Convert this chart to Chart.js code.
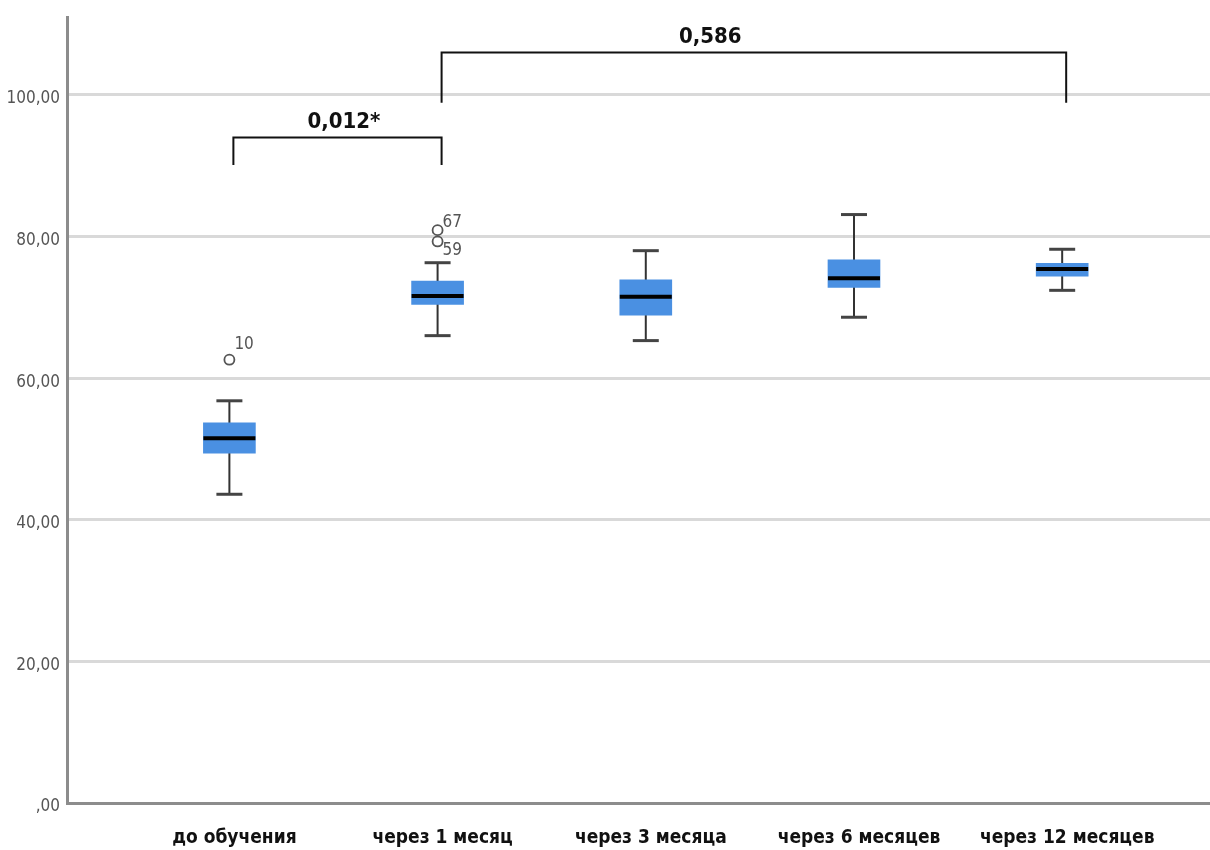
<!DOCTYPE html>
<html>
<head>
<meta charset="utf-8">
<script src="https://cdn.jsdelivr.net/npm/chart.js@4.4.0/dist/chart.umd.min.js"></script>
<style>
  html, body { margin: 0; padding: 0; background: #fff; overflow: hidden; }
  #wrap { width: 1210px; height: 850px; position: relative; }
  #wrap canvas { display: block; }
</style>
</head>
<body>
<div id="wrap"><canvas id="boxChart"></canvas></div>
<script>
// groups and box statistics
const categories = ["до обучения", "через 1 месяц", "через 3 месяца", "через 6 месяцев", "через 12 месяцев"];
const whiskerLow = [43.6, 66.0, 65.3, 68.6, 72.4];
const q1 = [49.4, 70.4, 68.9, 72.8, 74.4];
const medians = [51.5, 71.6, 71.5, 74.1, 75.4];
const q3 = [53.7, 73.7, 73.9, 76.7, 76.2];
const whiskerHigh = [56.8, 76.3, 78.0, 83.1, 78.2];

// outliers
const outlierGroup = [0, 1, 1];
const outlierValues = [62.6, 80.9, 79.3];
const outlierIds = ["10", "67", "59"];

// y axis ticks
const yTicks = [0, 20, 40, 60, 80, 100];
const yTickLabels = [",00", "20,00", "40,00", "60,00", "80,00", "100,00"];

// significance brackets
const bracketFrom = [0, 1];
const bracketTo = [1, 4];
const bracketTop = [94.0, 106.0];
const bracketBottom = [90.1, 98.9];
const bracketLabels = ["0,012*", "0,586"];
const bracketLabelAt = [0.55, 2.31];

const narrow = "'Liberation Sans Narrow', 'DejaVu Sans Condensed', 'Liberation Sans', sans-serif";

// whiskers, caps, medians, outlier ids and brackets
const boxExtras = {
  id: "boxExtras",
  beforeDatasetsDraw(chart) {
    const { ctx, scales: { x, y } } = chart;
    ctx.save();
    ctx.strokeStyle = "#333";
    ctx.lineWidth = 2;
    categories.forEach((c, i) => {
      const px = x.getPixelForValue(i);
      ctx.beginPath();
      ctx.moveTo(px, y.getPixelForValue(whiskerLow[i]));
      ctx.lineTo(px, y.getPixelForValue(whiskerHigh[i]));
      ctx.stroke();
    });
    ctx.restore();
  },
  afterDatasetsDraw(chart) {
    const { ctx, scales: { x, y } } = chart;
    const bars = chart.getDatasetMeta(0).data;
    ctx.save();

    // caps
    ctx.strokeStyle = "#444";
    ctx.lineWidth = 3;
    categories.forEach((c, i) => {
      const px = x.getPixelForValue(i);
      const half = bars[i].width / 4;
      [whiskerLow[i], whiskerHigh[i]].forEach(v => {
        const py = y.getPixelForValue(v);
        ctx.beginPath();
        ctx.moveTo(px - half, py);
        ctx.lineTo(px + half, py);
        ctx.stroke();
      });
    });

    // medians
    ctx.strokeStyle = "#000";
    ctx.lineWidth = 4;
    categories.forEach((c, i) => {
      const px = x.getPixelForValue(i);
      const half = bars[i].width / 2;
      const py = y.getPixelForValue(medians[i]);
      ctx.beginPath();
      ctx.moveTo(px - half, py);
      ctx.lineTo(px + half, py);
      ctx.stroke();
    });

    // outlier ids
    ctx.fillStyle = "#555";
    ctx.font = "17px " + narrow;
    ctx.textAlign = "left";
    outlierValues.forEach((v, i) => {
      const px = x.getPixelForValue(outlierGroup[i]);
      const py = y.getPixelForValue(v);
      const near = (j) => j !== i && outlierGroup[j] === outlierGroup[i] && Math.abs(outlierValues[j] - v) < 3;
      const above = outlierValues.some((w, j) => near(j) && w > v);
      const below = outlierValues.some((w, j) => near(j) && w < v);
      if (above) {
        ctx.textBaseline = "top";
        ctx.fillText(outlierIds[i], px + 5, py + 1);
      } else if (below) {
        ctx.textBaseline = "alphabetic";
        ctx.fillText(outlierIds[i], px + 5, py - 3);
      } else {
        ctx.textBaseline = "alphabetic";
        ctx.fillText(outlierIds[i], px + 5, py - 11);
      }
    });

    // brackets
    ctx.strokeStyle = "#111";
    ctx.lineWidth = 2;
    ctx.fillStyle = "#111";
    ctx.font = "bold 22px " + narrow;
    ctx.textAlign = "center";
    ctx.textBaseline = "alphabetic";
    bracketLabels.forEach((label, i) => {
      const x0 = x.getPixelForValue(bracketFrom[i]) + 4;
      const x1 = x.getPixelForValue(bracketTo[i]) + 4;
      const yt = y.getPixelForValue(bracketTop[i]);
      const yb = y.getPixelForValue(bracketBottom[i]);
      ctx.beginPath();
      ctx.moveTo(x0, yb);
      ctx.lineTo(x0, yt);
      ctx.lineTo(x1, yt);
      ctx.lineTo(x1, yb);
      ctx.stroke();
      ctx.fillText(label, x.getPixelForValue(bracketLabelAt[i]), yt - 9);
    });

    ctx.restore();
  }
};

const ctx = document.getElementById("boxChart").getContext("2d");
const boxChart = new Chart(ctx, {
  type: "bar",
  data: {
    datasets: [
      {
        label: "box",
        data: categories.map((c, i) => ({ x: i, y: [q1[i], q3[i]] })),
        backgroundColor: "#4a90e2",
        borderWidth: 0,
        barThickness: 52
      },
      {
        type: "scatter",
        label: "outliers",
        data: outlierValues.map((v, i) => ({ x: outlierGroup[i], y: v })),
        pointRadius: 5,
        pointBorderWidth: 1.8,
        borderColor: "#555",
        backgroundColor: "rgba(255,255,255,0)"
      }
    ]
  },
  options: {
    responsive: true,
    maintainAspectRatio: false,
    animation: false,
    layout: { autoPadding: false, padding: { top: 17, right: 0, left: 0, bottom: 0 } },
    plugins: {
      legend: { display: false },
      tooltip: { enabled: false }
    },
    scales: {
      x: {
        type: "linear",
        min: -0.78,
        max: 4.71,
        offset: false,
        grid: { display: false, offset: false },
        border: { color: "#8c8c8c", width: 3 },
        afterBuildTicks: s => { s.ticks = categories.map((c, i) => ({ value: i })); },
        afterFit: s => { s.height = 47; s.paddingRight = 0; s.paddingLeft = 0; },
        ticks: {
          autoSkip: false,
          maxRotation: 0,
          padding: 16,
          labelOffset: 5,
          color: "#111",
          font: { family: narrow, size: 19, weight: "bold" },
          callback: v => categories[v]
        }
      },
      y: {
        min: 0,
        max: 111,
        grid: { color: "#d9d9d9", lineWidth: 3, drawTicks: false },
        border: { color: "#8c8c8c", width: 3 },
        afterBuildTicks: s => { s.ticks = yTicks.map(v => ({ value: v })); },
        afterFit: s => { s.width = 67; s.paddingTop = 0; s.paddingBottom = 0; },
        ticks: {
          padding: 7,
          labelOffset: 4,
          color: "#555",
          font: { family: narrow, size: 17 },
          callback: v => yTickLabels[yTicks.indexOf(v)]
        }
      }
    }
  },
  plugins: [boxExtras]
});
</script>
</body>
</html>
